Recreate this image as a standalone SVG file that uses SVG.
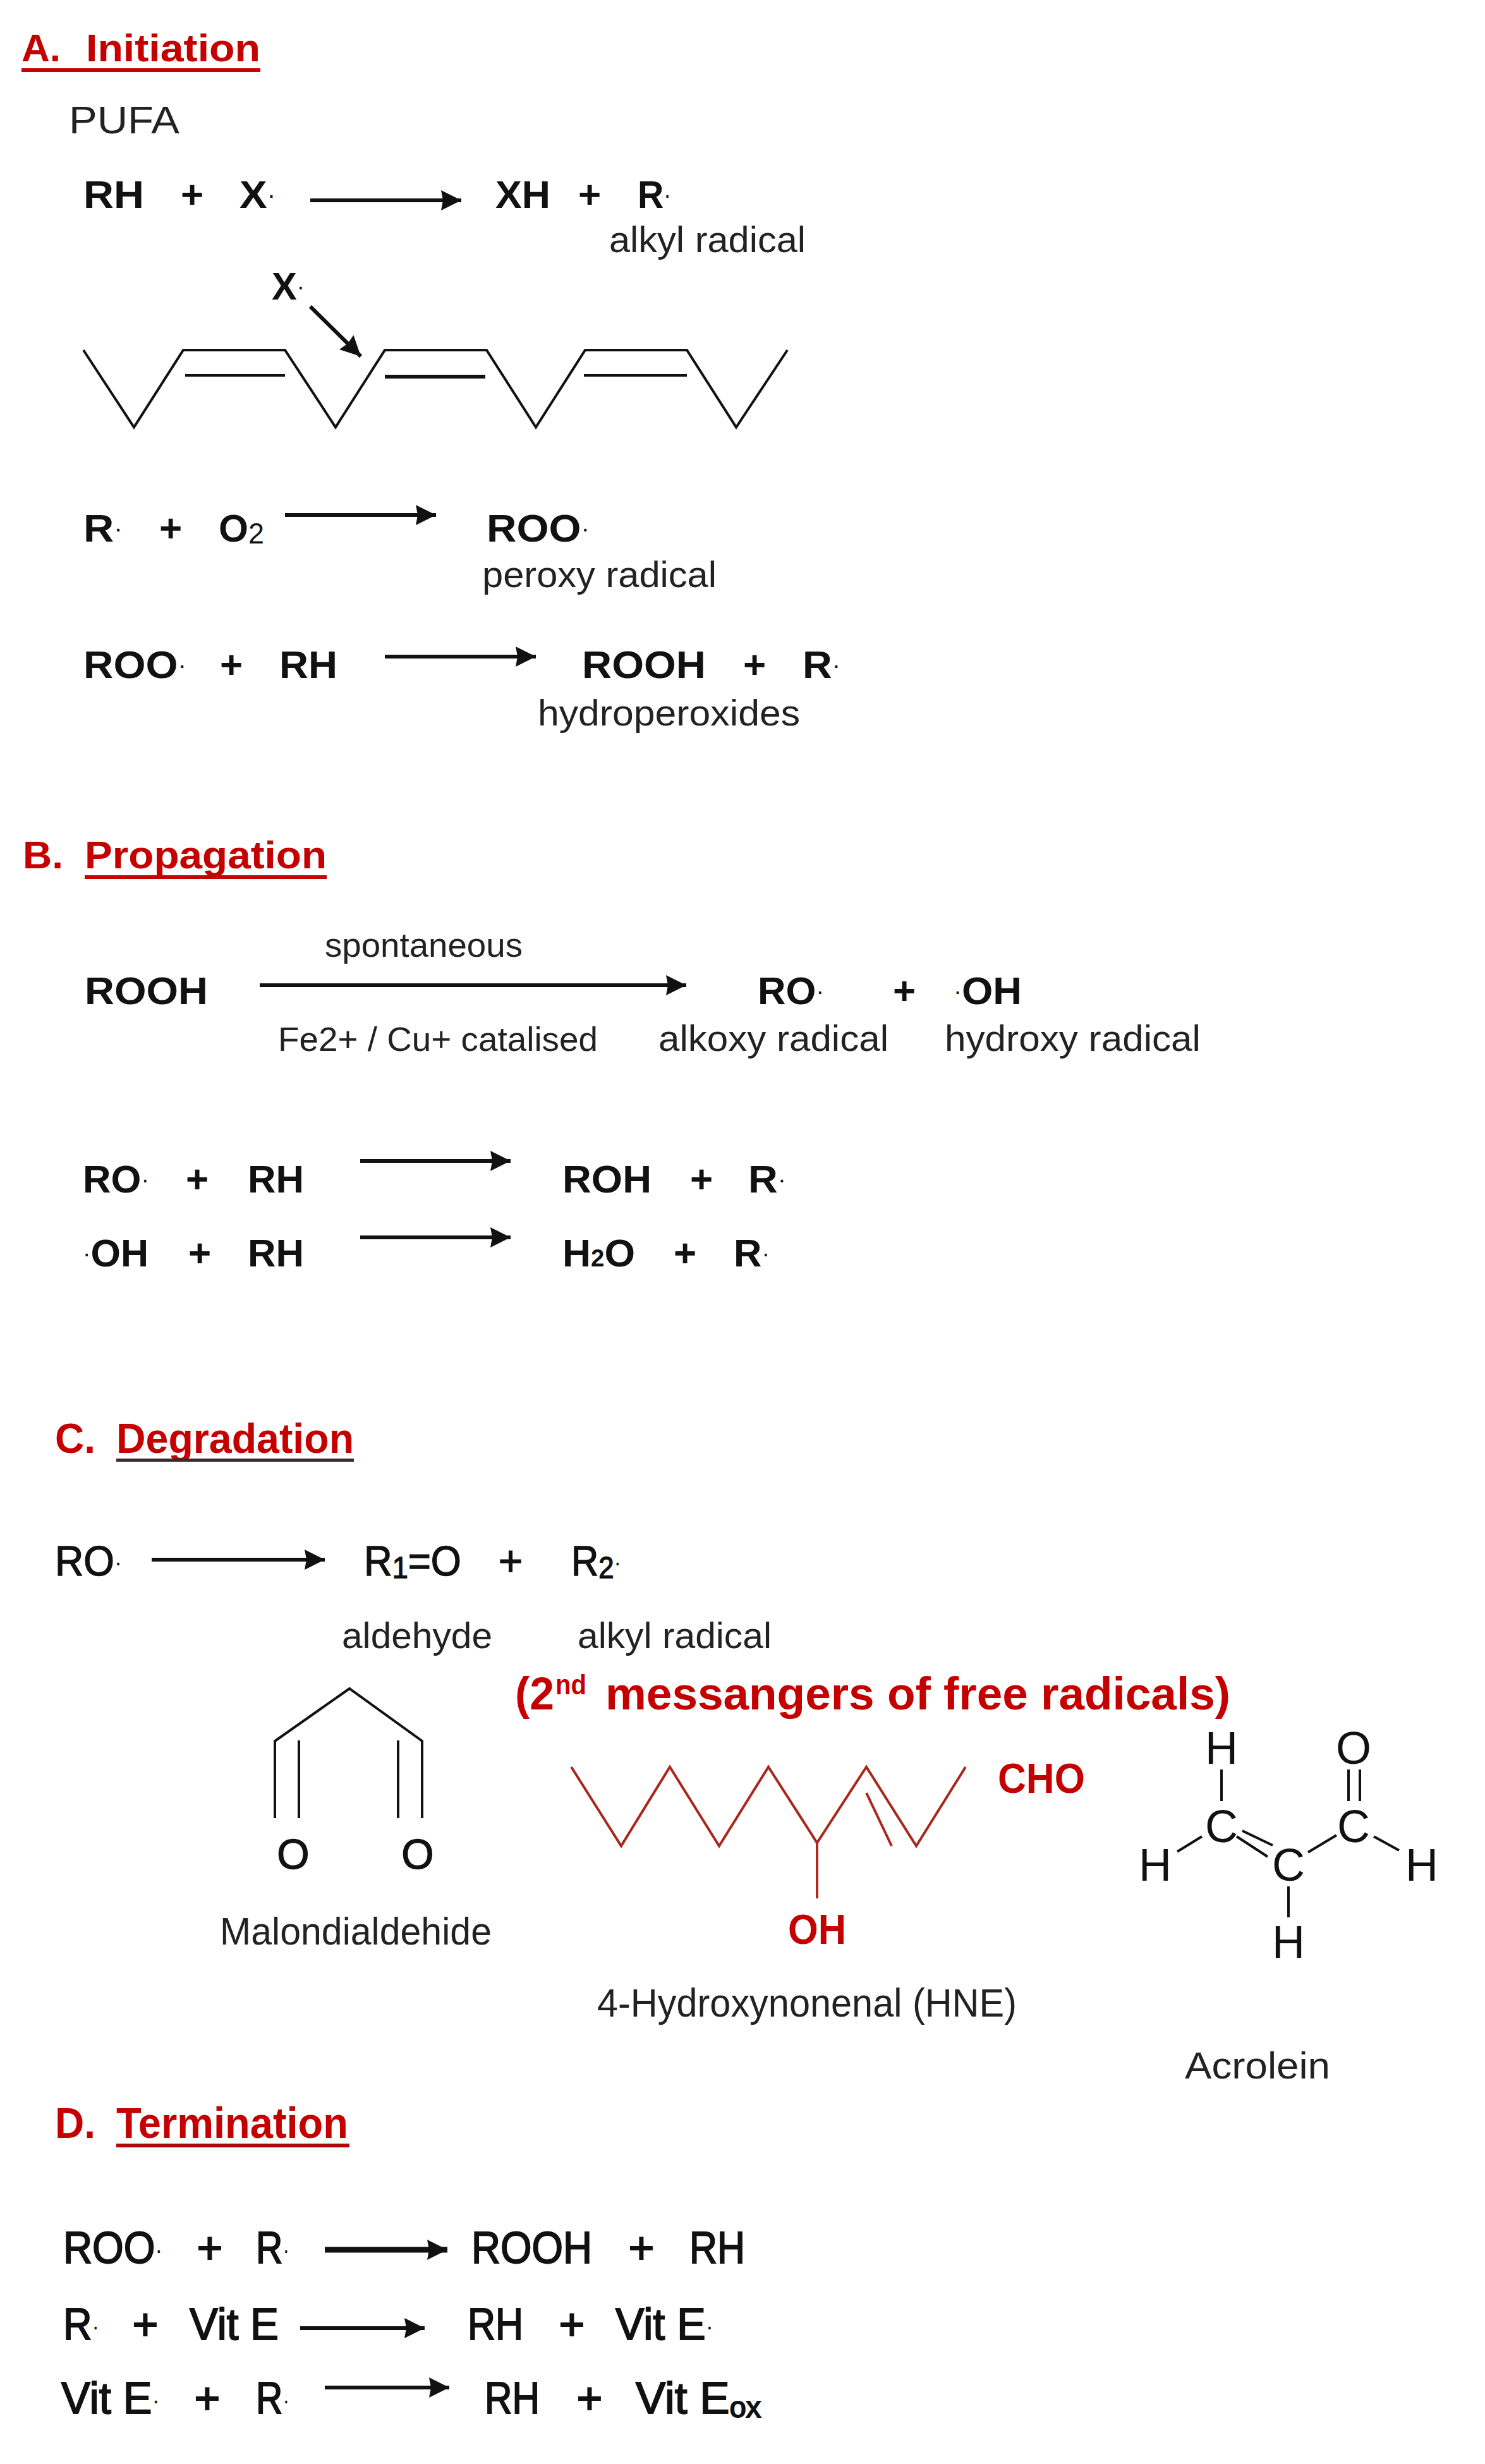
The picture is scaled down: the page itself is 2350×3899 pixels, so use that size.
<svg xmlns="http://www.w3.org/2000/svg" width="2350" height="3899" viewBox="0 0 2350 3899">
<style>
text{font-family:"Liberation Sans",Arial,sans-serif;fill:#111}
.h{font-size:62px;font-weight:700;fill:#c40000}
.b{font-size:62px;font-weight:700}
.m{font-size:66px;font-weight:400;stroke:#111;stroke-width:1.4px}
.t{font-size:70px;font-weight:400;stroke:#111;stroke-width:2px}
.l{font-size:57px;font-weight:400;fill:#222}
.red{fill:#c40000}
.d{font-size:38px;font-weight:400;stroke:none}
.at{font-size:72px;font-weight:400}
.mid{text-anchor:middle}
.ln{fill:none;stroke:#111;stroke-width:4;stroke-linejoin:miter;stroke-linecap:butt}
.hn{fill:none;stroke:#a8261a;stroke-width:4}
.a{fill:none;stroke:#111;stroke-width:6;marker-end:url(#ah)}
.u{fill:#c40000}
</style>
<defs>
<marker id="ah" markerUnits="userSpaceOnUse" markerWidth="36" markerHeight="36" refX="34" refY="18" orient="auto">
<path d="M2,2 L34,18 L2,34 L5,18 Z" fill="#111"/>
</marker>
</defs>
<rect width="2350" height="3899" fill="#fff"/>

<g id="connectors">
<line class="a" x1="491" y1="317" x2="730" y2="317"/>
<line class="a" x1="491" y1="485" x2="571" y2="564"/>
<line class="a" x1="451" y1="815" x2="690" y2="815"/>
<line class="a" x1="609" y1="1039" x2="848" y2="1039"/>
<line class="a" x1="411" y1="1559" x2="1086" y2="1559"/>
<line class="a" x1="570" y1="1837" x2="808" y2="1837"/>
<line class="a" x1="570" y1="1958" x2="808" y2="1958"/>
<line class="a" x1="240" y1="2468" x2="514" y2="2468"/>
<line class="a" style="stroke-width:9" x1="514" y1="3560" x2="708" y2="3560"/>
<line class="a" x1="475" y1="3684" x2="672" y2="3684"/>
<line class="a" x1="514" y1="3778" x2="711" y2="3778"/>
</g>

<g id="section-a">
<g id="title-a">
<text class="h" x="34" y="97" textLength="62" lengthAdjust="spacingAndGlyphs">A.</text>
<text class="h" x="136" y="97" textLength="276" lengthAdjust="spacingAndGlyphs">Initiation</text>
<rect class="u" x="34" y="108" width="378" height="6"/>
</g>
<text id="pufa" class="l" x="109" y="211" style="font-size:62px" textLength="175" lengthAdjust="spacingAndGlyphs">PUFA</text>
<g id="eq-a1">
<text class="b" x="132" y="329" textLength="96" lengthAdjust="spacingAndGlyphs">RH</text>
<text class="b mid" x="304" y="329">+</text>
<text class="b" x="379" y="329" textLength="57" lengthAdjust="spacingAndGlyphs">X<tspan class="d" dy="-7">·</tspan></text>
<text class="b" x="784" y="329" textLength="87" lengthAdjust="spacingAndGlyphs">XH</text>
<text class="b mid" x="933" y="329">+</text>
<text class="b" x="1009" y="329" textLength="53" lengthAdjust="spacingAndGlyphs">R<tspan class="d" dy="-7">·</tspan></text>
<text class="l" x="964" y="399" textLength="311" lengthAdjust="spacingAndGlyphs">alkyl radical</text>
</g>
<g id="pufa-chain">
<text class="b" x="430" y="474" textLength="52" lengthAdjust="spacingAndGlyphs">X<tspan class="d" dy="-7">·</tspan></text>
<polyline class="ln" points="132,554 212,676 290,554 451,554 531,676 609,554 770,554 848,676 926,554 1087,554 1165,676 1246,554"/>
<line class="ln" x1="293" y1="594" x2="451" y2="594"/>
<line class="ln" style="stroke-width:6" x1="609" y1="596" x2="768" y2="596"/>
<line class="ln" x1="924" y1="594" x2="1087" y2="594"/>
</g>
<g id="eq-a2">
<text class="b" x="132" y="857" textLength="62" lengthAdjust="spacingAndGlyphs">R<tspan class="d" dy="-7">·</tspan></text>
<text class="b mid" x="270" y="857">+</text>
<text class="b" x="346" y="857" textLength="72" lengthAdjust="spacingAndGlyphs">O<tspan dy="3" style="font-size:46px;font-weight:400">2</tspan></text>
<text class="b" x="770" y="857" textLength="163" lengthAdjust="spacingAndGlyphs">ROO<tspan class="d" dy="-7">·</tspan></text>
<text class="l" x="763" y="929" textLength="371" lengthAdjust="spacingAndGlyphs">peroxy radical</text>
</g>
<g id="eq-a3">
<text class="b" x="132" y="1073" textLength="163" lengthAdjust="spacingAndGlyphs">ROO<tspan class="d" dy="-7">·</tspan></text>
<text class="b mid" x="366" y="1073">+</text>
<text class="b" x="442" y="1073" textLength="92" lengthAdjust="spacingAndGlyphs">RH</text>
<text class="b" x="921" y="1073" textLength="196" lengthAdjust="spacingAndGlyphs">ROOH</text>
<text class="b mid" x="1194" y="1073">+</text>
<text class="b" x="1270" y="1073" textLength="60" lengthAdjust="spacingAndGlyphs">R<tspan class="d" dy="-7">·</tspan></text>
<text class="l" x="851" y="1148" textLength="415" lengthAdjust="spacingAndGlyphs">hydroperoxides</text>
</g>
</g>

<g id="section-b">
<g id="title-b">
<text class="h" x="36" y="1374" textLength="64" lengthAdjust="spacingAndGlyphs">B.</text>
<text class="h" x="134" y="1374" textLength="383" lengthAdjust="spacingAndGlyphs">Propagation</text>
<rect class="u" x="134" y="1385" width="383" height="6"/>
</g>
<g id="eq-b1">
<text class="l" style="font-size:53px" x="514" y="1514" textLength="313" lengthAdjust="spacingAndGlyphs">spontaneous</text>
<text class="b" x="134" y="1589" textLength="195" lengthAdjust="spacingAndGlyphs">ROOH</text>
<text class="l" style="font-size:53px" x="440" y="1663" textLength="506" lengthAdjust="spacingAndGlyphs">Fe2+ / Cu+ catalised</text>
<text class="b" x="1199" y="1589" textLength="105" lengthAdjust="spacingAndGlyphs">RO<tspan class="d" dy="-7">·</tspan></text>
<text class="b mid" x="1431" y="1589">+</text>
<text class="b" x="1509" y="1589" textLength="108" lengthAdjust="spacingAndGlyphs"><tspan class="d" dy="-7">·</tspan><tspan dy="7">OH</tspan></text>
<text class="l" x="1042" y="1663" textLength="364" lengthAdjust="spacingAndGlyphs">alkoxy radical</text>
<text class="l" x="1495" y="1663" textLength="405" lengthAdjust="spacingAndGlyphs">hydroxy radical</text>
</g>
<g id="eq-b2">
<text class="b" x="131" y="1887" textLength="105" lengthAdjust="spacingAndGlyphs">RO<tspan class="d" dy="-7">·</tspan></text>
<text class="b mid" x="312" y="1887">+</text>
<text class="b" x="392" y="1887" textLength="89" lengthAdjust="spacingAndGlyphs">RH</text>
<text class="b" x="890" y="1887" textLength="141" lengthAdjust="spacingAndGlyphs">ROH</text>
<text class="b mid" x="1110" y="1887">+</text>
<text class="b" x="1184" y="1887" textLength="60" lengthAdjust="spacingAndGlyphs">R<tspan class="d" dy="-7">·</tspan></text>
</g>
<g id="eq-b3">
<text class="b" x="131" y="2004" textLength="104" lengthAdjust="spacingAndGlyphs"><tspan class="d" dy="-7">·</tspan><tspan dy="7">OH</tspan></text>
<text class="b mid" x="316" y="2004">+</text>
<text class="b" x="392" y="2004" textLength="89" lengthAdjust="spacingAndGlyphs">RH</text>
<text class="b" x="890" y="2004" textLength="115" lengthAdjust="spacingAndGlyphs">H<tspan style="font-size:38px">2</tspan>O</text>
<text class="b mid" x="1084" y="2004">+</text>
<text class="b" x="1161" y="2004" textLength="57" lengthAdjust="spacingAndGlyphs">R<tspan class="d" dy="-7">·</tspan></text>
</g>
</g>

<g id="section-c">
<g id="title-c">
<text class="h" x="87" y="2299" style="font-size:66px" textLength="64" lengthAdjust="spacingAndGlyphs">C.</text>
<text class="h" x="184" y="2299" style="font-size:66px" textLength="376" lengthAdjust="spacingAndGlyphs">Degradation</text>
<rect x="184" y="2308" width="376" height="5" fill="#3a2a2a"/>
</g>
<g id="eq-c1">
<text class="m" x="87" y="2493" textLength="106" lengthAdjust="spacingAndGlyphs">RO<tspan class="d" dy="-7">·</tspan></text>
<text class="m" x="576" y="2493" textLength="154" lengthAdjust="spacingAndGlyphs">R<tspan dy="4" style="font-size:48px">1</tspan><tspan dy="-4">=O</tspan></text>
<text class="m mid" x="808" y="2493">+</text>
<text class="m" x="904" y="2493" textLength="79" lengthAdjust="spacingAndGlyphs">R<tspan dy="4" style="font-size:48px">2</tspan><tspan class="d" dy="-11">·</tspan></text>
<text class="l" x="541" y="2608" textLength="238" lengthAdjust="spacingAndGlyphs">aldehyde</text>
<text class="l" x="914" y="2608" textLength="307" lengthAdjust="spacingAndGlyphs">alkyl radical</text>
</g>
<g id="messengers">
<text class="h red" x="815" y="2705" style="font-size:73px" textLength="62" lengthAdjust="spacingAndGlyphs">(2</text>
<text class="h red" x="879" y="2681" style="font-size:44px" textLength="49" lengthAdjust="spacingAndGlyphs">nd</text>
<text class="h red" x="958" y="2705" style="font-size:73px" textLength="989" lengthAdjust="spacingAndGlyphs">messangers of free radicals)</text>
</g>
<g id="malondialdehyde">
<polyline class="ln" points="435,2877 435,2755 553,2672 668,2755 668,2877"/>
<line class="ln" x1="473" y1="2754" x2="473" y2="2877"/>
<line class="ln" x1="630" y1="2754" x2="630" y2="2877"/>
<text class="m mid" x="464" y="2957">O</text>
<text class="m mid" x="661" y="2957">O</text>
<text class="l" style="font-size:62px" x="348" y="3077" textLength="430" lengthAdjust="spacingAndGlyphs">Malondialdehide</text>
</g>
<g id="hne">
<polyline class="hn" points="904,2796 983,2921 1060,2796 1138,2921 1216,2796 1293,2916 1371,2796 1450,2921 1528,2796"/>
<line class="hn" x1="1371" y1="2837" x2="1411" y2="2921"/>
<line class="hn" style="stroke:#b3261a" x1="1293" y1="2916" x2="1293" y2="3004"/>
<text class="b red" x="1579" y="2837" style="font-size:66px" textLength="138" lengthAdjust="spacingAndGlyphs">CHO</text>
<text class="b red" x="1247" y="3076" style="font-size:66px" textLength="92" lengthAdjust="spacingAndGlyphs">OH</text>
<text class="l" style="font-size:63px" x="945" y="3191" textLength="664" lengthAdjust="spacingAndGlyphs">4-Hydroxynonenal (HNE)</text>
</g>
<g id="acrolein">
<text class="at mid" x="1933" y="2791">H</text>
<text class="at mid" x="2142" y="2791">O</text>
<text class="at mid" x="1933" y="2915">C</text>
<text class="at mid" x="2142" y="2915">C</text>
<text class="at mid" x="2039" y="2976">C</text>
<text class="at mid" x="1828" y="2976">H</text>
<text class="at mid" x="2250" y="2976">H</text>
<text class="at mid" x="2039" y="3098">H</text>
<line class="ln" x1="1933" y1="2800" x2="1933" y2="2850"/>
<line class="ln" x1="2134" y1="2800" x2="2134" y2="2850"/>
<line class="ln" x1="2152" y1="2800" x2="2152" y2="2850"/>
<line class="ln" x1="1863" y1="2930" x2="1902" y2="2906"/>
<line class="ln" x1="2174" y1="2906" x2="2214" y2="2928"/>
<line class="ln" x1="2070" y1="2931" x2="2115" y2="2904"/>
<line class="ln" x1="1966" y1="2897" x2="2014" y2="2920"/>
<line class="ln" x1="1957" y1="2906" x2="2006" y2="2938"/>
<line class="ln" x1="2039" y1="2985" x2="2039" y2="3034"/>
<text class="l" style="font-size:60px" x="1875" y="3289" textLength="230" lengthAdjust="spacingAndGlyphs">Acrolein</text>
</g>
</g>

<g id="section-d">
<g id="title-d">
<text class="h" x="87" y="3383" style="font-size:68px" textLength="64" lengthAdjust="spacingAndGlyphs">D.</text>
<text class="h" x="184" y="3383" style="font-size:68px" textLength="367" lengthAdjust="spacingAndGlyphs">Termination</text>
<rect x="184" y="3392" width="369" height="6" fill="#b00808"/>
</g>
<g id="eq-d1">
<text class="t" x="100" y="3581" textLength="157" lengthAdjust="spacingAndGlyphs">ROO<tspan class="d" dy="-7">·</tspan></text>
<text class="t mid" x="332" y="3581">+</text>
<text class="t" x="405" y="3581" textLength="53" lengthAdjust="spacingAndGlyphs">R<tspan class="d" dy="-7">·</tspan></text>
<text class="t" x="746" y="3581" textLength="191" lengthAdjust="spacingAndGlyphs">ROOH</text>
<text class="t mid" x="1015" y="3581">+</text>
<text class="t" x="1091" y="3581" textLength="88" lengthAdjust="spacingAndGlyphs">RH</text>
</g>
<g id="eq-d2">
<text class="t" x="100" y="3702" textLength="57" lengthAdjust="spacingAndGlyphs">R<tspan class="d" dy="-7">·</tspan></text>
<text class="t mid" x="230" y="3702">+</text>
<text class="t" x="300" y="3702" textLength="141" lengthAdjust="spacingAndGlyphs">Vit E</text>
<text class="t" x="740" y="3702" textLength="88" lengthAdjust="spacingAndGlyphs">RH</text>
<text class="t mid" x="905" y="3702">+</text>
<text class="t" x="974" y="3702" textLength="155" lengthAdjust="spacingAndGlyphs">Vit E<tspan class="d" dy="-7">·</tspan></text>
</g>
<g id="eq-d3">
<text class="t" x="97" y="3819" textLength="156" lengthAdjust="spacingAndGlyphs">Vit E<tspan class="d" dy="-7">·</tspan></text>
<text class="t mid" x="328" y="3819">+</text>
<text class="t" x="405" y="3819" textLength="53" lengthAdjust="spacingAndGlyphs">R<tspan class="d" dy="-7">·</tspan></text>
<text class="t" x="767" y="3819" textLength="87" lengthAdjust="spacingAndGlyphs">RH</text>
<text class="t mid" x="933" y="3819">+</text>
<text class="t" x="1006" y="3819" textLength="198" lengthAdjust="spacingAndGlyphs">Vit E<tspan dy="6" style="font-size:46px">ox</tspan></text>
</g>
</g>
</svg>
